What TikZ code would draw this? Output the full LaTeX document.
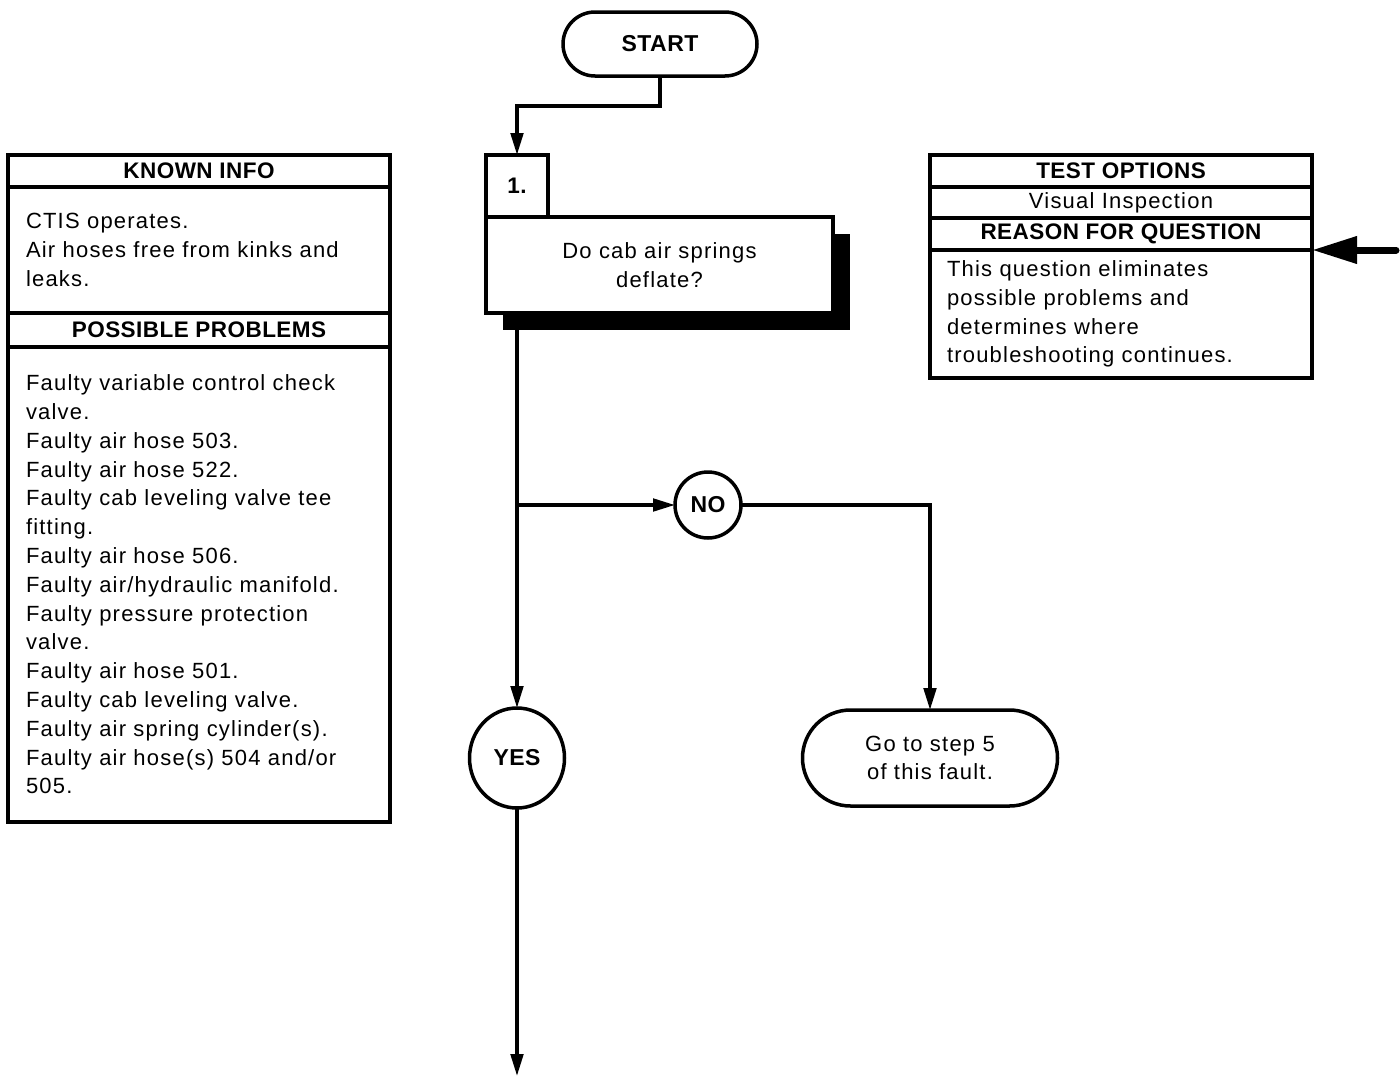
\documentclass[tikz,border=0pt]{standalone}
\usepackage{fontspec}
\setmainfont{Liberation Sans}[LetterSpace=5.5,BoldFeatures={LetterSpace=2}]
\usetikzlibrary{arrows.meta,shapes.misc,shapes.geometric,shadows,calc}
\begin{document}
\begin{tikzpicture}[x=1pt,y=-1pt,
  every node/.style={font=\fontsize{22}{28.8}\selectfont, inner sep=0pt, outer sep=0pt},
  box/.style={draw, line width=3.5pt, fill=white, anchor=north west, minimum width=382pt},
  hdr/.style={box, font=\fontsize{22.5}{28.8}\selectfont\bfseries},
  plainrow/.style={box},
  txt/.style={box, align=left, text width=346pt, inner xsep=18pt},
  term/.style={draw, line width=3.5pt, rounded rectangle, fill=white, align=center},
  circ/.style={draw, line width=3.5pt, fill=white, font=\fontsize{23}{28.8}\selectfont\bfseries},
  arr/.style={line width=3.5pt, -{Triangle[length=22pt,width=12.5pt]}},
]
\useasboundingbox (0,0) rectangle (1400,1076);

% left panel
\node[hdr, minimum height=32pt] (kh) at (8,155) {KNOWN INFO};
\node[txt, minimum height=126pt] (kb) at (8,187) {CTIS operates.\\Air hoses free from kinks and\\leaks.};
\node[hdr, minimum height=34pt] (ph) at (8,313) {POSSIBLE PROBLEMS};
\node[txt, minimum height=475pt] (pb) at (8,347) {Faulty variable control check\\valve.\\Faulty air hose 503.\\Faulty air hose 522.\\Faulty cab leveling valve tee\\fitting.\\Faulty air hose 506.\\Faulty air/hydraulic manifold.\\Faulty pressure protection\\valve.\\Faulty air hose 501.\\Faulty cab leveling valve.\\Faulty air spring cylinder(s).\\Faulty air hose(s) 504 and/or\\505.};

% right panel
\node[hdr, minimum height=32pt] (th) at (930,155) {TEST OPTIONS};
\node[plainrow, minimum height=31pt] (tv) at (930,187) {Visual Inspection};
\node[hdr, minimum height=32pt] (rh) at (930,218) {REASON FOR QUESTION};
\node[txt, minimum height=128pt, inner xsep=17pt, text width=348pt] (rb) at (930,250) {This question eliminates\\possible problems and\\determines where\\troubleshooting continues.};

% flow
\node[term, minimum width=194pt, minimum height=64pt, font=\fontsize{23}{28.8}\selectfont\bfseries] (start) at (660,44) {START};
\node[draw, line width=3.5pt, fill=white, anchor=north west, minimum width=62pt, minimum height=62pt, font=\fontsize{22.5}{28.8}\selectfont\bfseries] (num) at (486,155) {1.};
\node[draw, line width=3.5pt, fill=white, anchor=north west, minimum width=347pt, minimum height=96pt, align=center,
  drop shadow={shadow xshift=17pt, shadow yshift=-17pt, fill=black, opacity=1, draw=none}] (q) at (486,217) {Do cab air springs\\deflate?};
\node[circ, circle, minimum size=66pt] (no) at (708,505) {NO};
\node[circ, ellipse, minimum width=95pt, minimum height=100pt] (yes) at (517,758) {YES};
\node[term, minimum width=255pt, minimum height=96pt] (goto) at (930,758) {Go to step 5\\of this fault.};

\coordinate (br) at (517,505);
\coordinate (bot) at (517,1076);
\coordinate (rin) at (1396,250);

\draw[arr] (start.south) -- ++(0,30) -| (num.north);
\draw[arr] (q.south -| num.south) -- (yes.north);
\draw[arr] (br) -- (no.west);
\draw[arr] (no.east) -| (goto.north);
\draw[arr] (yes.south) -- (bot);
\draw[line width=7pt, line cap=round, -{Triangle[length=45pt,width=26pt]}] (rin) -- (rb.north east);
\end{tikzpicture}
\end{document}
